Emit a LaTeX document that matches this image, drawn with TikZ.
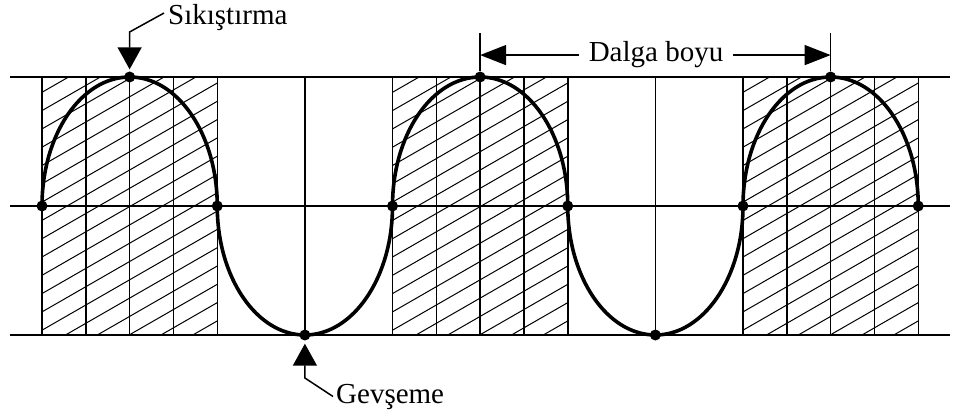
\documentclass[tikz,border=0pt]{standalone}
\usepackage{fontspec}
\setmainfont{Liberation Serif}
\usepackage{tikz}
\usetikzlibrary{arrows.meta,positioning,calc}

\begin{document}
\begin{tikzpicture}[
  x=1pt, y=1pt,
  grid/.style={line width=1.5pt},
  hatch/.style={line width=1pt},
  wave/.style={line width=3.6pt},
  dot/.style={circle, fill, inner sep=0pt, minimum size=11pt},
  lbl/.style={font=\fontsize{29}{34}\selectfont, inner sep=0pt},
  leader/.style={line width=1.5pt, -{Triangle[length=22pt,width=24pt]}},
  dimline/.style={line width=1.5pt, -{Triangle[length=26pt,width=20pt]}}
]
  \useasboundingbox (0,0) rectangle (958,416);

  % hatched half periods
  \foreach \bx in {42,392.5,743} {
    \begin{scope}
      \clip (\bx,81) rectangle ++(175.25,258);
      \foreach \k in {0,...,20}
        \draw[hatch] (\bx,{-24+\k*18.3}) -- ++(200,115);
    \end{scope}
    \foreach \i in {0,...,4}
      \draw[grid] ({\bx+\i*43.8125},81) -- ++(0,258);
  }
  \draw[grid] (304.9,81) -- ++(0,258);
  \draw[grid] (655.4,81) -- ++(0,258);

  \draw[grid] (10,339) -- (950,339);
  \draw[grid] (10,210) -- (950,210);
  \draw[grid] (10,81) -- (950,81);

  % crests, troughs and crossings
  \foreach \i/\y in {0/210,1/339,2/210,3/81,4/210,5/339,6/210,7/81,8/210,9/339,10/210}
    \node[dot] (p\i) at ({42+87.625*\i},\y) {};

  \draw[wave] (p0.center)
    arc[start angle=180, end angle=0, x radius=87.625pt, y radius=129pt]
    arc[start angle=180, end angle=360, x radius=87.625pt, y radius=129pt]
    arc[start angle=180, end angle=0, x radius=87.625pt, y radius=129pt]
    arc[start angle=180, end angle=360, x radius=87.625pt, y radius=129pt]
    arc[start angle=180, end angle=0, x radius=87.625pt, y radius=129pt];

  % labels
  \node[lbl, anchor=base west] (sik) at (168,391) {Sıkıştırma};
  \coordinate (sikbend) at (129.6,384);
  \draw[leader, shorten >=2pt] ([xshift=-4pt,yshift=5pt]sik.west) -- (sikbend) -- (p1.north);

  \node[lbl, anchor=base west] (gev) at (336,13) {Gevşeme};
  \coordinate (gevbend) at (304.9,38);
  \draw[leader, shorten >=3pt] ([xshift=-3pt]gev.west) -- (gevbend) -- (p3.south);

  \node[lbl, anchor=base, inner xsep=10pt] (dal) at (656,354) {Dalga boyu};
  \draw[grid] (p5) -- ++(0,44);
  \draw[grid] (p9) -- ++(0,44);
  \draw[dimline] (dal.west) -- (dal.west -| p5);
  \draw[dimline] (dal.east) -- (dal.east -| p9);
\end{tikzpicture}
\end{document}
